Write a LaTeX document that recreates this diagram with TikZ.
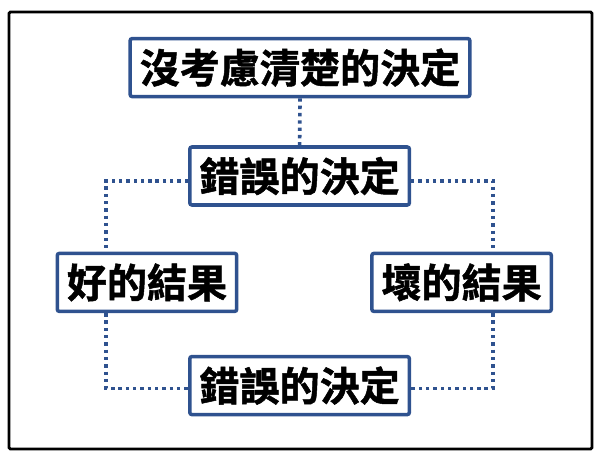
\documentclass[tikz,border=0pt]{standalone}
\usepackage{fontspec}
\newfontfamily\cjk{Noto Sans CJK TC}[BoldFont={Noto Sans CJK TC Bold}, BoldFeatures={FakeBold=1.2}]
\usepackage{tikz}
\usetikzlibrary{calc}
\definecolor{boxblue}{RGB}{47,82,143}
\tikzset{
	box/.style={draw=boxblue, line width=2.5pt, fill=white, rounded corners=1.5pt,
		inner xsep=0.24cm, inner ysep=0pt, minimum height=1.45cm,
		font=\cjk\bfseries\fontsize{28.5}{32}\selectfont},
	link/.style={boxblue, line width=2.6pt, dash pattern=on 2.4pt off 2.8pt}
}
\begin{document}
\begin{tikzpicture}
		\useasboundingbox (0,0) rectangle (15,11.55);
		\draw[line width=2pt, rounded corners=1pt] (0.225,0.325) rectangle (14.8,11.25);
%		nodes
		\node[box] (top) at (7.5,9.86){沒考慮清楚的決定};
		\node[box] (mid) at (7.49,7.15){錯誤的決定};
		\node[box] (good) at (3.675,4.49){好的結果};
		\node[box] (bad) at (11.54,4.49){壞的結果};
		\node[box] (bot) at (7.49,1.91){錯誤的決定};
		\coordinate (lcol) at (2.65,0);
		\coordinate (rcol) at (12.325,0);
%		connectors
		\draw[link] (top.south) -- (mid.north);
		\draw[link] ([yshift=-0.12cm]mid.west) -| (good.north -| lcol);
		\draw[link] ([yshift=-0.12cm]mid.east) -| (bad.north -| rcol);
		\draw[link] (good.south -| lcol) |- ([yshift=-0.07cm]bot.west);
		\draw[link] (bad.south -| rcol) |- ([yshift=-0.07cm]bot.east);
\end{tikzpicture}
\end{document}
